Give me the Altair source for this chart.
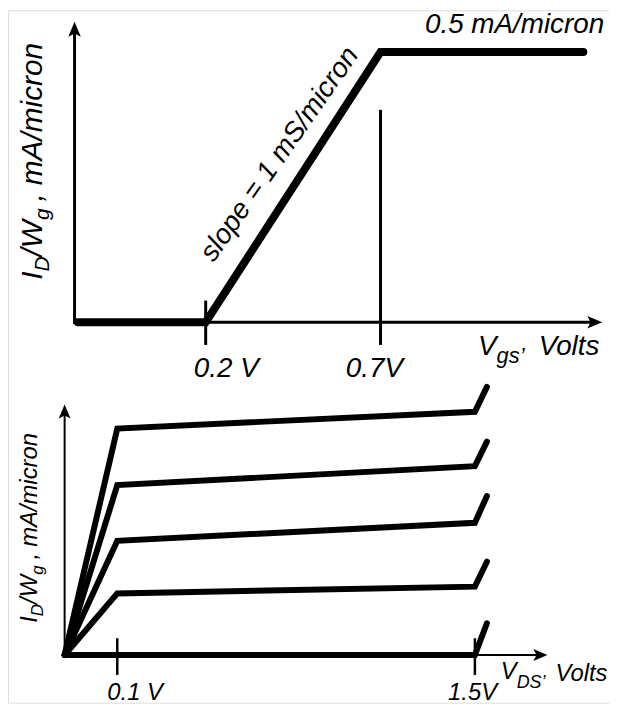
import altair as alt
import pandas as pd

# ---------------- data: top panel (transfer characteristic) ----------------
vgs_curve = [0.005, 0.2, 0.7, 1.28]          # V
id_curve = [0.0, 0.0, 0.5, 0.5]              # mA/micron
vgs_ticks = [0.2, 0.7]
vgs_tick_labels = ["0.2 V", "0.7V"]
tick_span_top = [-0.042, 0.040]              # extent of the 0.2 V tick (mA/micron)
drop_line_top = 0.393                        # top of the 0.7 V drop line
top_arrow_tip = [1.334, 0.556]               # x-axis tip (V), y-axis tip (mA/micron)
top_rule_end = [1.311, 0.541]
slope_point = [0.48, 0.28]
sat_label = "0.5 mA/micron"
slope_label = "slope = 1 mS/micron"

# ---------------- data: bottom panel (output characteristics) ----------------
vds_pts = [0.0, 0.1, 1.5, 1.547]             # V
id_step4 = [0.0, 0.500, 0.537, 0.592]        # mA/micron
id_step3 = [0.0, 0.375, 0.417, 0.471]
id_step2 = [0.0, 0.252, 0.292, 0.351]
id_step1 = [0.0, 0.136, 0.151, 0.206]
id_step0 = [0.0, 0.0, 0.0, 0.070]
vds_ticks = [0.1, 1.5]
vds_tick_labels = ["0.1 V", "1.5V"]
tick_span_bot = [-0.044, 0.037]
bot_arrow_tip = [1.784, 0.553]
bot_rule_end = [1.753, 0.535]

# ---------------- layout / style ----------------
W, H = 605, 697
FONT = "Liberation Sans"


def cx(p):
    return p - 8  # page pixel -> chart pixel


xs_top = alt.Scale(domain=[0, 0.2, 0.7], range=[cx(75), cx(207), cx(383)], nice=False, zero=False)
ys_top = alt.Scale(domain=[0, 0.5], range=[cx(322), cx(50)], nice=False, zero=False)
xs_bot = alt.Scale(domain=[0, 0.1, 1.5], range=[cx(65), cx(118), cx(478)], nice=False, zero=False)
ys_bot = alt.Scale(domain=[0, 0.5], range=[cx(657), cx(429)], nice=False, zero=False)

HELV = {' ': 278, ',': 278, '.': 278, '/': 278, '\u2019': 222, '=': 584, 'A': 667,
        'D': 722, 'I': 278, 'S': 667, 'V': 667, 'W': 944, 'c': 500, 'e': 556, 'g': 556,
        'i': 222, 'l': 222, 'm': 833, 'n': 556, 'o': 556, 'p': 556, 'r': 333, 's': 500, 't': 278}


def tw(s, size):
    return sum(HELV.get(c, 556) for c in s) * size / 1000.0


def xy(xs, ys, xf="x", yf="y"):
    return dict(x=alt.X(f"{xf}:Q", scale=xs, axis=None), y=alt.Y(f"{yf}:Q", scale=ys, axis=None))


def rule(xs, ys, x1, y1, x2, y2, width, cap="butt"):
    df = pd.DataFrame({"x": [x1], "y": [y1], "x2": [x2], "y2": [y2]})
    return alt.Chart(df).mark_rule(color="black", strokeWidth=width, strokeCap=cap).encode(
        **xy(xs, ys), x2="x2:Q", y2="y2:Q")


ARROW = "M0,0 L0.42,1 L0,0.78 L-0.42,1 Z"


def arrows(xs, ys, pts, size):
    df = pd.DataFrame({"x": [p[0] for p in pts], "y": [p[1] for p in pts], "a": [p[2] for p in pts]})
    return alt.Chart(df).mark_point(shape=ARROW, filled=True, size=size, color="black",
                                    opacity=1, strokeWidth=0).encode(
        **xy(xs, ys), angle=alt.Angle("a:Q", scale=None))


def text_pieces(xs, ys, anchor, pieces, start_dx, base_dy, angle=0):
    """pieces: (text, fontSize, baseline shift, gap before)"""
    layers = []
    cur = start_dx
    for t, size, shift, gap in pieces:
        cur += gap
        df = pd.DataFrame({"x": [anchor[0]], "y": [anchor[1]], "t": [t]})
        mk = dict(align="left", baseline="alphabetic", dx=cur, dy=base_dy + shift,
                  fontSize=size, font=FONT, fontStyle="italic", color="black")
        if angle:
            mk["angle"] = angle
        layers.append(alt.Chart(df).mark_text(**mk).encode(**xy(xs, ys), text="t:N"))
        cur += tw(t, size)
    return layers


def span(pieces):
    return sum(tw(t, s) + g for t, s, _, g in pieces)


# ---------------- top panel ----------------
top_layers = []
top_layers.append(rule(xs_top, ys_top, 0, 0, 0, top_rule_end[1], 3, "square"))
top_layers.append(rule(xs_top, ys_top, 0, 0, top_rule_end[0], 0, 3, "square"))
top_layers.append(arrows(xs_top, ys_top, [(0, top_arrow_tip[1], 0), (top_arrow_tip[0], 0, 90)], 900))
top_layers.append(rule(xs_top, ys_top, vgs_ticks[0], tick_span_top[0], vgs_ticks[0], tick_span_top[1], 3))
top_layers.append(rule(xs_top, ys_top, vgs_ticks[1], tick_span_top[0], vgs_ticks[1], drop_line_top, 3))
top_layers.append(
    alt.Chart(pd.DataFrame({"x": vgs_curve, "y": id_curve})).mark_line(
        color="black", strokeWidth=8, strokeCap="round", strokeJoin="miter").encode(**xy(xs_top, ys_top)))
# tick labels
top_layers += text_pieces(xs_top, ys_top, (vgs_ticks[0], 0), [(vgs_tick_labels[0], 28, 0, 0)], -12, 55)
top_layers += text_pieces(xs_top, ys_top, (vgs_ticks[1], 0), [(vgs_tick_labels[1], 28, 0, 0)], -35, 55)
# x label  V_gs', Volts
top_layers += text_pieces(xs_top, ys_top, (top_arrow_tip[0], 0),
                          [("V", 28, 0, 0), ("gs\u2019", 22, 8, 0)], -125, 33)
top_layers += text_pieces(xs_top, ys_top, (top_arrow_tip[0], 0), [("Volts", 28, 0, 0)], -64, 33)
# y title  I_D/W_g , mA/micron
ytitle_top = [("I", 30, 0, 0), ("D", 21, 7, 0), ("/W", 30, 0, 0), ("g", 21, 7, 0),
              (",", 30, 0, 7), ("mA/micron", 30, 0, 8)]
top_layers += text_pieces(xs_top, ys_top, (0, 0), ytitle_top, (322 - 160) - span(ytitle_top) / 2, -33,
                          angle=270)
# annotations
top_layers.append(
    alt.Chart(pd.DataFrame({"x": [vgs_curve[-1]], "y": [id_curve[-1]], "t": [sat_label]})).mark_text(
        align="right", baseline="alphabetic", dx=21, dy=-19, fontSize=28, font=FONT,
        fontStyle="italic", color="black").encode(**xy(xs_top, ys_top), text="t:N"))
top_layers.append(
    alt.Chart(pd.DataFrame({"x": [slope_point[0]], "y": [slope_point[1]], "t": [slope_label]})).mark_text(
        align="center", baseline="alphabetic", dy=-21, angle=305, fontSize=28, font=FONT,
        fontStyle="italic", color="black").encode(**xy(xs_top, ys_top), text="t:N"))

# ---------------- bottom panel ----------------
bot_layers = []
bot_layers.append(rule(xs_bot, ys_bot, 0, 0, 0, bot_rule_end[1], 2, "square"))
bot_layers.append(rule(xs_bot, ys_bot, 0, 0, bot_rule_end[0], 0, 2, "square"))
bot_layers.append(arrows(xs_bot, ys_bot, [(0, bot_arrow_tip[1], 0), (bot_arrow_tip[0], 0, 90)], 800))
for t in vds_ticks:
    bot_layers.append(rule(xs_bot, ys_bot, t, tick_span_bot[0], t, tick_span_bot[1], 2.5))
curves = []
for name, ids in [("step4", id_step4), ("step3", id_step3), ("step2", id_step2),
                  ("step1", id_step1), ("step0", id_step0)]:
    for v, i in zip(vds_pts, ids):
        curves.append({"x": v, "y": i, "curve": name})
bot_layers.append(
    alt.Chart(pd.DataFrame(curves)).mark_line(
        color="black", strokeWidth=6, strokeCap="round", strokeJoin="miter").encode(
        **xy(xs_bot, ys_bot), detail="curve:N"))
bot_layers += text_pieces(xs_bot, ys_bot, (vds_ticks[0], 0), [(vds_tick_labels[0], 24, 0, 0)], -10, 45)
bot_layers += text_pieces(xs_bot, ys_bot, (vds_ticks[1], 0), [(vds_tick_labels[1], 24, 0, 0)], -27, 45)
bot_layers += text_pieces(xs_bot, ys_bot, (bot_arrow_tip[0], 0),
                          [("V", 24, 0, 0), ("DS\u2019", 18, 9, 0)], -47, 24)
bot_layers += text_pieces(xs_bot, ys_bot, (bot_arrow_tip[0], 0), [("Volts", 24, 0, 0)], 8, 26)
ytitle_bot = [("I", 24, 0, 0), ("D", 17, 6, 0), ("/W", 24, 0, 0), ("g", 17, 6, 0),
              (",", 24, 0, 6), ("mA/micron", 24, 0, 6)]
bot_layers += text_pieces(xs_bot, ys_bot, (0, 0), ytitle_bot, (657 - 529) - span(ytitle_bot) / 2, -28,
                          angle=270)

chart = alt.layer(alt.layer(*top_layers), alt.layer(*bot_layers)).resolve_scale(
    x="independent", y="independent"
).properties(
    width=W, height=H, autosize=alt.AutoSizeParams(type="none"), padding=0
).configure_view(stroke=None).configure(background="white")

chart.save("out.html", embed_options={"renderer": "svg", "actions": False})
